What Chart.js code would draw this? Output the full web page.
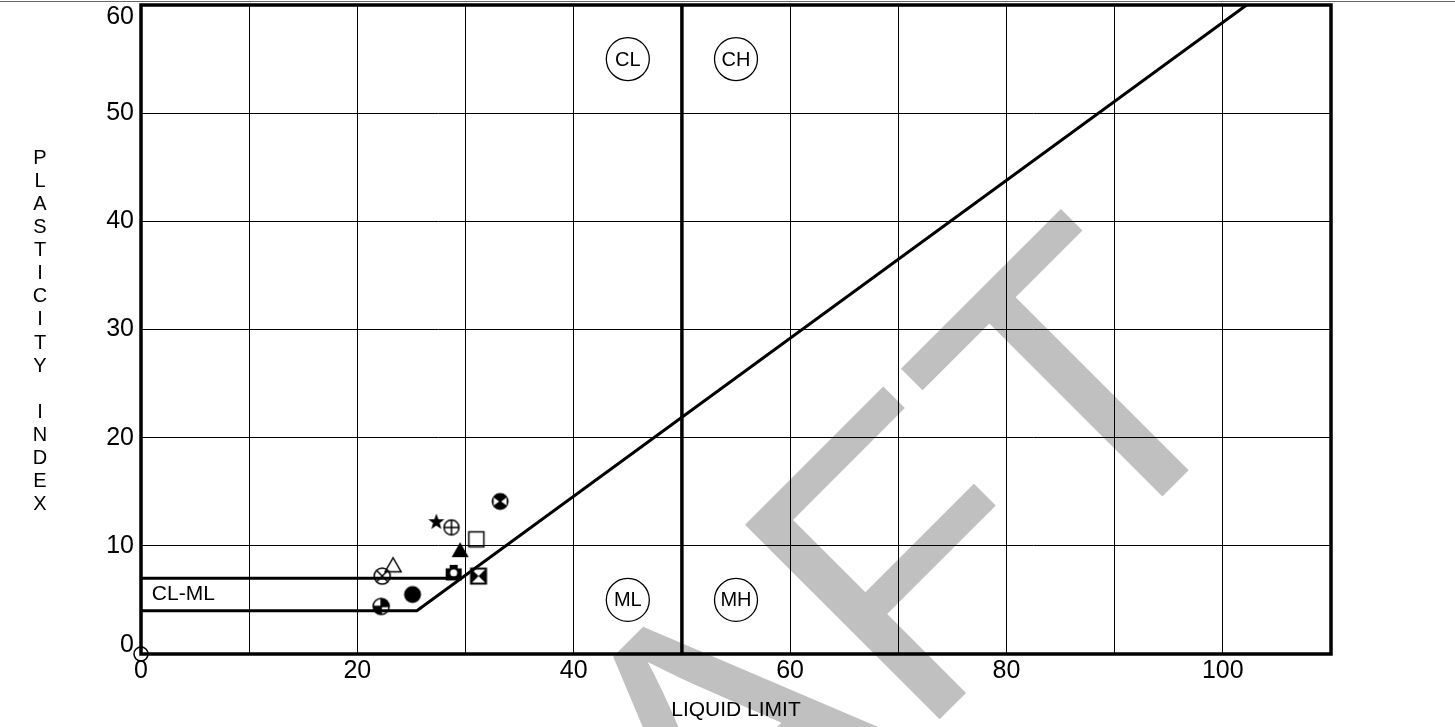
<!DOCTYPE html>
<html>
<head>
<meta charset="utf-8">
<script src="https://cdn.jsdelivr.net/npm/chart.js@4.4.1/dist/chart.umd.min.js"></script>
<style>
  html, body { margin: 0; padding: 0; background: #fff; }
  #wrap { width: 1455px; height: 727px; }
</style>
</head>
<body>
<div id="wrap"><canvas id="chartPlasticidad" width="1455" height="727"></canvas></div>
<script>
const xLabelTicks = [0, 20, 40, 60, 80, 100];
const yLabelTicks = [0, 10, 20, 30, 40, 50, 60];

// muestras: limite liquido / indice de plasticidad / simbolo
const sampleLL = [0, 22.2, 25.1, 22.3, 23.3, 28.9, 31.2, 29.5, 31.0, 27.3, 28.7, 33.2];
const samplePI = [0, 4.4, 5.5, 7.2, 8.2, 7.5, 7.2, 9.6, 10.6, 12.2, 11.7, 14.1];
const sampleSymbol = ['circuloChico', 'cuartos', 'punto', 'circuloX', 'trianguloAbierto', 'camara',
                      'reloj', 'triangulo', 'cuadro', 'estrella', 'circuloMas', 'puntoX'];

// linea A (con el tramo horizontal en 4) y linea horizontal en 7
const aLineLL = [0, 25.5, 102.2];
const aLinePI = [4, 4, 60];
const mlLineLL = [0, 29.6];
const mlLinePI = [7, 7];
// linea vertical LL = 50
const uLineLL = [50, 50];
const uLinePI = [0, 60];

// zonas
const zoneNames = ['CL', 'CH', 'ML', 'MH'];
const zoneLL = [45, 55, 45, 55];
const zonePI = [55, 55, 5, 5];
const clmlLabel = 'CL-ML';
const clmlLL = 1.0;
const clmlPI = 5.5;

const FONT = '"Liberation Sans", Arial, sans-serif';

function toXY(xs, ys) {
  return xs.map((x, i) => ({ x, y: ys[i] }));
}

function makeSymbol(name) {
  const c = document.createElement('canvas');
  c.width = 22; c.height = 22;
  const g = c.getContext('2d');
  g.translate(11, 11);
  g.lineWidth = 1.5;
  g.strokeStyle = '#000';
  g.fillStyle = '#000';
  const circle = r => { g.beginPath(); g.arc(0, 0, r, 0, Math.PI * 2); };
  switch (name) {
    case 'circuloChico':
      circle(7); g.stroke();
      break;
    case 'cuartos':
      g.beginPath(); g.moveTo(0, 0); g.arc(0, 0, 8, -Math.PI / 2, 0); g.closePath(); g.fill();
      g.beginPath(); g.moveTo(0, 0); g.arc(0, 0, 8, Math.PI / 2, Math.PI); g.closePath(); g.fill();
      circle(8); g.stroke();
      g.beginPath(); g.moveTo(-8, 0); g.lineTo(8, 0); g.moveTo(0, -8); g.lineTo(0, 8); g.stroke();
      break;
    case 'punto':
      circle(8.5); g.fill();
      break;
    case 'circuloX':
      circle(8); g.stroke();
      g.beginPath(); g.moveTo(-5.7, -5.7); g.lineTo(5.7, 5.7); g.moveTo(5.7, -5.7); g.lineTo(-5.7, 5.7); g.stroke();
      break;
    case 'trianguloAbierto':
      g.beginPath(); g.moveTo(0, -7.5); g.lineTo(8, 6.5); g.lineTo(-8, 6.5); g.closePath(); g.stroke();
      break;
    case 'triangulo':
      g.beginPath(); g.moveTo(0, -8); g.lineTo(8.5, 7); g.lineTo(-8.5, 7); g.closePath(); g.fill();
      break;
    case 'camara':
      g.fillRect(-8, -4.5, 16, 12);
      g.fillRect(-4, -8, 8, 4);
      g.fillStyle = '#fff'; circle(3.5); g.fill();
      break;
    case 'reloj':
      g.lineWidth = 2;
      g.strokeRect(-7.5, -7.5, 15, 15);
      g.beginPath(); g.moveTo(-7.5, -7.5); g.lineTo(0, 0); g.lineTo(-7.5, 7.5); g.closePath(); g.fill();
      g.beginPath(); g.moveTo(7.5, -7.5); g.lineTo(0, 0); g.lineTo(7.5, 7.5); g.closePath(); g.fill();
      break;
    case 'cuadro':
      g.strokeRect(-7.5, -7.5, 15, 15);
      break;
    case 'estrella':
      g.beginPath();
      for (let i = 0; i < 10; i++) {
        const r = i % 2 ? 3.5 : 8.5;
        const a = -Math.PI / 2 + i * Math.PI / 5;
        g.lineTo(r * Math.cos(a), r * Math.sin(a));
      }
      g.closePath(); g.fill();
      break;
    case 'circuloMas':
      circle(7.5); g.stroke();
      g.beginPath(); g.moveTo(-7.5, 0); g.lineTo(7.5, 0); g.moveTo(0, -7.5); g.lineTo(0, 7.5); g.stroke();
      break;
    case 'puntoX':
      circle(8.5); g.fill();
      g.fillStyle = '#fff';
      g.beginPath(); g.moveTo(-1, 0); g.lineTo(-6.5, -4); g.lineTo(-6.5, 4); g.closePath(); g.fill();
      g.beginPath(); g.moveTo(1, 0); g.lineTo(6.5, -4); g.lineTo(6.5, 4); g.closePath(); g.fill();
      break;
  }
  return c;
}

const symbolCanvases = sampleSymbol.map(makeSymbol);

const fondo = {
  id: 'fondo',
  beforeDraw(chart) {
    const ctx = chart.ctx;
    ctx.save();
    ctx.fillStyle = '#fff';
    ctx.fillRect(0, 0, chart.width, chart.height);
    ctx.fillStyle = '#666';
    ctx.fillRect(0, 1, chart.width, 1);
    // marca de agua
    ctx.translate(1262, 397);
    ctx.rotate(-Math.PI / 4);
    ctx.fillStyle = '#c0c0c0';
    ctx.font = '400px ' + FONT;
    ctx.textAlign = 'right';
    ctx.textBaseline = 'alphabetic';
    ctx.fillText('DRAFT', 0, 0);
    ctx.restore();
  },
  beforeDatasetsDraw(chart) {
    const { ctx, chartArea: a } = chart;
    ctx.save();
    ctx.strokeStyle = '#000';
    ctx.lineWidth = 3.5;
    ctx.strokeRect(a.left, a.top, a.right - a.left, a.bottom - a.top);
    ctx.restore();
  },
  afterDraw(chart) {
    const { ctx, chartArea: a } = chart;
    const xs = chart.scales.x, ys = chart.scales.y;
    ctx.save();
    ctx.fillStyle = '#000';
    ctx.strokeStyle = '#000';
    // etiquetas eje Y (ajustadas dentro del area)
    ctx.font = '25px ' + FONT;
    ctx.textAlign = 'right';
    ctx.textBaseline = 'middle';
    yLabelTicks.forEach(v => {
      let py = ys.getPixelForValue(v);
      py = Math.min(Math.max(py, a.top + 12), a.bottom - 9);
      ctx.fillText(String(v), a.left - 7, py);
    });
    // titulo eje Y en letras apiladas
    ctx.font = '20px ' + FONT;
    ctx.textAlign = 'center';
    const letras = 'PLASTICITY INDEX'.split('');
    const paso = 23.07;
    const cy = (a.top + a.bottom) / 2 + 2;
    letras.forEach((ch, i) => {
      ctx.fillText(ch, 40, cy + (i - (letras.length - 1) / 2) * paso);
    });
    // CL-ML
    ctx.font = '21px ' + FONT;
    ctx.textAlign = 'left';
    ctx.fillText(clmlLabel, xs.getPixelForValue(clmlLL), ys.getPixelForValue(clmlPI));
    // zonas en circulo
    ctx.font = '20px ' + FONT;
    ctx.textAlign = 'center';
    ctx.lineWidth = 1.3;
    zoneNames.forEach((z, i) => {
      const px = xs.getPixelForValue(zoneLL[i]);
      const py = ys.getPixelForValue(zonePI[i]);
      ctx.fillStyle = '#fff';
      ctx.beginPath(); ctx.arc(px, py, 21.5, 0, Math.PI * 2); ctx.fill(); ctx.stroke();
      ctx.fillStyle = '#000';
      ctx.fillText(z, px, py + 1);
    });
    ctx.restore();
  }
};

const lineStyle = { borderColor: '#000', borderWidth: 3, pointRadius: 0, showLine: true, fill: false, tension: 0 };

new Chart(document.getElementById('chartPlasticidad'), {
  type: 'scatter',
  data: {
    datasets: [
      { label: 'A-line', data: toXY(aLineLL, aLinePI), ...lineStyle },
      { label: 'CL-ML', data: toXY(mlLineLL, mlLinePI), ...lineStyle },
      { label: 'U50', data: toXY(uLineLL, uLinePI), ...lineStyle, borderWidth: 3.5 },
      {
        label: 'Muestras',
        data: toXY(sampleLL, samplePI),
        pointStyle: symbolCanvases,
        pointRadius: 9,
        showLine: false,
        clip: false
      }
    ]
  },
  options: {
    responsive: false,
    animation: false,
    events: [],
    layout: { autoPadding: false, padding: { left: 0, top: 5, right: 124, bottom: 0 } },
    plugins: { legend: { display: false }, tooltip: { enabled: false } },
    scales: {
      x: {
        type: 'linear', min: 0, max: 110,
        grid: { color: '#000', lineWidth: 1, drawTicks: false },
        border: { display: false },
        ticks: {
          stepSize: 10, autoSkip: false, maxRotation: 0, padding: 2,
          color: '#000', font: { family: FONT, size: 25, lineHeight: 1.2 },
          callback: v => xLabelTicks.includes(v) ? String(v) : ''
        },
        title: {
          display: true, text: 'LIQUID LIMIT', color: '#000',
          font: { family: FONT, size: 21, lineHeight: 1.2 },
          padding: { top: 0, bottom: 4 }
        },
        afterFit: s => { s.height = 73; }
      },
      y: {
        type: 'linear', min: 0, max: 60,
        grid: { color: '#000', lineWidth: 1, drawTicks: false },
        border: { display: false },
        ticks: { stepSize: 10, display: false },
        afterFit: s => { s.width = 141; }
      }
    }
  },
  plugins: [fondo]
});
</script>
</body>
</html>
